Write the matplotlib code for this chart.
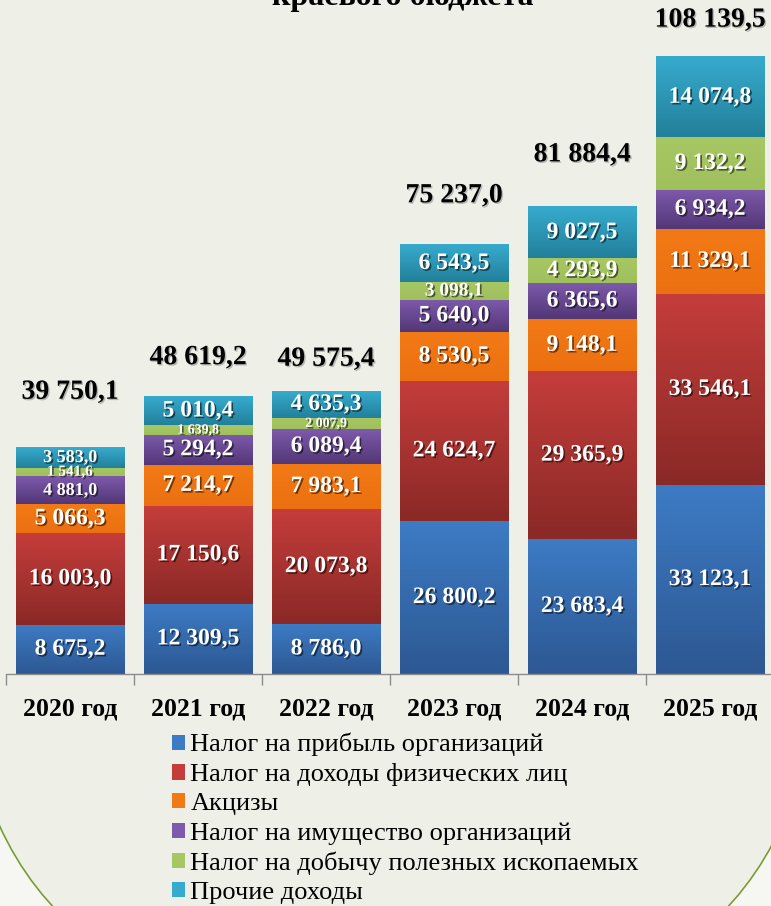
import numpy as np
import matplotlib
matplotlib.use("Agg")
import matplotlib.pyplot as plt
import matplotlib.patheffects as pe
from matplotlib.colors import LinearSegmentedColormap
from matplotlib.patches import FancyBboxPatch

# данные (млн руб.)
years = ["2020 год", "2021 год", "2022 год", "2023 год", "2024 год", "2025 год"]
profit_tax = [8675.2, 12309.5, 8786.0, 26800.2, 23683.4, 33123.1]
income_tax = [16003.0, 17150.6, 20073.8, 24624.7, 29365.9, 33546.1]
excises = [5066.3, 7214.7, 7983.1, 8530.5, 9148.1, 11329.1]
property_tax = [4881.0, 5294.2, 6089.4, 5640.0, 6365.6, 6934.2]
mining_tax = [1541.6, 1639.8, 2007.9, 3098.1, 4293.9, 9132.2]
other_income = [3583.0, 5010.4, 4635.3, 6543.5, 9027.5, 14074.8]
totals = [39750.1, 48619.2, 49575.4, 75237.0, 81884.4, 108139.5]

series_names = [
    "Налог на прибыль организаций",
    "Налог на доходы физических лиц",
    "Акцизы",
    "Налог на имущество организаций",
    "Налог на добычу полезных ископаемых",
    "Прочие доходы",
]
series = [profit_tax, income_tax, excises, property_tax, mining_tax, other_income]

# цвета: (верх, низ) градиента
grad_colors = [
    ("#3d7bc4", "#2d5893"),
    ("#c43d3b", "#8a2926"),
    ("#f27a16", "#ec7011"),
    ("#7d5aab", "#523777"),
    ("#a6c764", "#9fc05c"),
    ("#37abcd", "#22809b"),
]
base_colors = [c[0] for c in grad_colors]

# размер шрифта подписей сегментов
label_sizes = [
    [17, 17, 17, 17, 17, 17],
    [17, 17, 17, 17, 17, 17],
    [17, 17, 17, 17, 17, 17],
    [13, 17, 17, 17, 17, 17],
    [11, 10, 10, 14, 17, 17],
    [13, 17, 17, 17, 17, 17],
]
total_offsets = [55, 39, 32, 49, 52, 37]  # px над столбцом

W, H = 771, 906
fig = plt.figure(figsize=(W / 100, H / 100), dpi=100)
fig.patch.set_facecolor("#f6f7f3")

# рамка слайда со скруглёнными углами
frame = FancyBboxPatch((-40 / 100, -108 / 100), 861 / 100, 1300 / 100,
                       boxstyle="round,pad=0,rounding_size=4.0",
                       transform=fig.dpi_scale_trans, facecolor="#eef0e7",
                       edgecolor="#7a9c36", linewidth=1.2, zorder=-1)
fig.patches.append(frame)

ax = fig.add_axes([6 / W, (H - 674) / H, 768 / W, 656 / H])
ax.set_facecolor("none")
ax.set_zorder(1)

serif = "Liberation Serif"
x = np.arange(len(years))
bottom = np.zeros(len(years))
shadow = [pe.SimplePatchShadow(offset=(1.2, -1.2), shadow_rgbFace="black", alpha=0.55), pe.Normal()]

for i, (vals, name) in enumerate(zip(series, series_names)):
    bars = ax.bar(x, vals, 0.85, bottom=bottom, color=base_colors[i], label=name, zorder=2)
    cmap = LinearSegmentedColormap.from_list("g%d" % i, [grad_colors[i][1], grad_colors[i][0]])
    for j, bar in enumerate(bars):
        bx, by, bw, bh = bar.get_x(), bar.get_y(), bar.get_width(), bar.get_height()
        grad = np.linspace(0, 1, 64).reshape(-1, 1)
        ax.imshow(grad, extent=[bx, bx + bw, by, by + bh], origin="lower",
                  aspect="auto", cmap=cmap, zorder=2.5)
        ax.text(bx + bw / 2, by + bh / 2, f"{vals[j]:,.1f}".replace(",", " ").replace(".", ","),
                ha="center", va="center", color="white", fontsize=label_sizes[i][j],
                fontweight="bold", family=serif, zorder=4, path_effects=shadow)
    bottom += np.array(vals)

for j, t in enumerate(totals):
    ax.annotate(f"{t:,.1f}".replace(",", " ").replace(".", ","), (x[j], t),
                xytext=(0, total_offsets[j] * 0.72), textcoords="offset points",
                ha="center", va="center", fontsize=20, fontweight="bold", family=serif,
                color="black", zorder=4,
                path_effects=[pe.SimplePatchShadow(offset=(1, -1), shadow_rgbFace="gray", alpha=0.5), pe.Normal()])

ax.set_xlim(-0.5, len(years) - 0.5)
ax.set_ylim(0, 115000)
for s in ["top", "left", "right"]:
    ax.spines[s].set_visible(False)
ax.spines["bottom"].set_color("#8c8c8c")
ax.spines["bottom"].set_linewidth(1.0)
ax.set_yticks([])
ax.set_xticks(x)
ax.set_xticklabels(years, fontsize=18.5, fontweight="bold", family=serif)
ax.tick_params(axis="x", which="major", length=0, pad=17)
ax.set_xticks(np.arange(len(years) + 1) - 0.5, minor=True)
ax.tick_params(axis="x", which="minor", length=8, color="#8c8c8c", width=1.0)

fig.text(403 / W, 1 - 5 / H, "краевого бюджета", ha="center", va="baseline",
         fontsize=23, fontweight="bold", family=serif)

leg = fig.legend(loc="upper left", bbox_to_anchor=(172 / W, 1 - 733 / H), frameon=False,
                 prop={"family": serif, "size": 19}, handlelength=0.5, handleheight=0.5,
                 handletextpad=0.2, labelspacing=0.26, borderpad=0, borderaxespad=0)

fig.savefig("out.png", dpi=100, facecolor=fig.get_facecolor())
